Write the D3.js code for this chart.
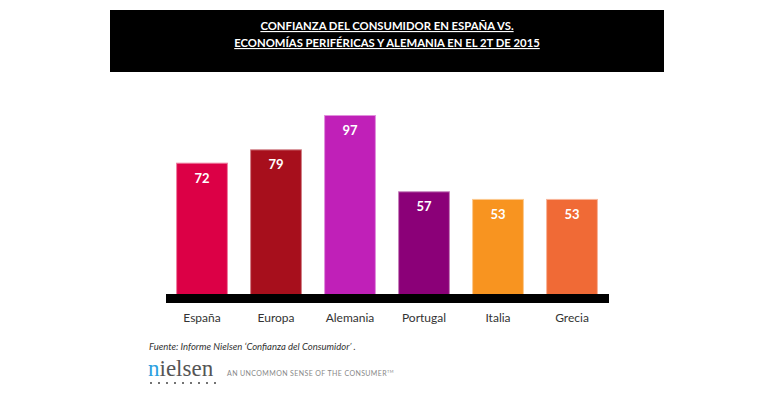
<!DOCTYPE html>
<html><head><meta charset="utf-8">
<script src="https://cdn.jsdelivr.net/npm/d3@7"></script>
<style>body{margin:0;background:#fff}svg{display:block}</style>
</head><body>
<script>
const categories = ["España","Europa","Alemania","Portugal","Italia","Grecia"];
const values = [72,79,97,57,53,53];
const colors = ["#dc0046","#a70f1c","#c020b8","#8b0078","#f89420","#f06a36"];
const strokes = ["#ee7fa0","#d07f86","#e08fdc","#c57fbb","#fcc98f","#f8b49a"];
const titleLines = ["CONFIANZA DEL CONSUMIDOR EN ESPAÑA VS.","ECONOMÍAS PERIFÉRICAS Y ALEMANIA EN EL 2T DE 2015"];
const source = "Fuente: Informe Nielsen ‘Confianza del Consumidor’ .";

const W=770,H=406;
const svg=d3.select("body").append("svg").attr("width",W).attr("height",H);
const font="Lato, 'Open Sans', sans-serif";

// title box
svg.append("rect").attr("x",110).attr("y",10).attr("width",554).attr("height",62).attr("fill","#000");
svg.selectAll("text.title").data(titleLines).join("text").attr("class","title")
  .attr("x",387).attr("y",(d,i)=>30+i*17).attr("text-anchor","middle")
  .attr("fill","#fff").attr("font-family",font).attr("font-weight","bold").attr("font-size",11.3)
  .attr("text-decoration","underline").text(d=>d);

const x=d3.scaleBand().domain(categories).range([165,609]).paddingInner(0.3).paddingOuter(0.15);
const y=d3.scaleLinear().domain([0,97]).range([300,115]);

svg.selectAll("rect.bar").data(values).join("rect").attr("class","bar")
  .attr("x",(d,i)=>x(categories[i])+0.5).attr("width",x.bandwidth()-1)
  .attr("y",d=>y(d)+0.5).attr("height",d=>y(0)-y(d))
  .attr("fill",(d,i)=>colors[i]).attr("stroke",(d,i)=>strokes[i]).attr("stroke-width",1);

svg.selectAll("text.val").data(values).join("text").attr("class","val")
  .attr("x",(d,i)=>x(categories[i])+x.bandwidth()/2).attr("y",d=>y(d)+20)
  .attr("text-anchor","middle").attr("fill","#fff").attr("font-family",font)
  .attr("font-weight","bold").attr("font-size",13).text(d=>d);

// axis band
svg.append("rect").attr("x",166).attr("y",294).attr("width",443).attr("height",9).attr("fill","#000");

const xAxis=d3.axisBottom(x).tickSize(0).tickPadding(0);
const ax=svg.append("g").attr("transform","translate(0,311)").call(xAxis);
ax.select(".domain").remove();
ax.selectAll("text").attr("font-family",font).attr("font-size",12).attr("fill","#333").attr("dy","0.9em");

svg.append("text").attr("x",149).attr("y",350).attr("font-family",font).attr("font-style","italic")
  .attr("font-size",9.5).attr("fill","#333").text(source);

// nielsen logo
const logo=svg.append("text").attr("x",148).attr("y",376).attr("font-family","'Liberation Serif','DejaVu Serif',serif")
  .attr("font-size",23).attr("fill","#555");
logo.append("tspan").attr("fill","#2b9fe0").text("n");
logo.append("tspan").text("ielsen");
svg.selectAll("circle.dot").data(d3.range(9)).join("circle").attr("class","dot")
  .attr("cx",d=>151+d*8).attr("cy",383).attr("r",1).attr("fill","#444");
svg.append("text").attr("x",227).attr("y",376).attr("font-family",font).attr("font-size",7)
  .attr("letter-spacing",0.4).attr("fill","#888").text("AN UNCOMMON SENSE OF THE CONSUMER")
  .append("tspan").attr("font-size",4).attr("dy",-3).text("TM");
</script>
</body></html>
